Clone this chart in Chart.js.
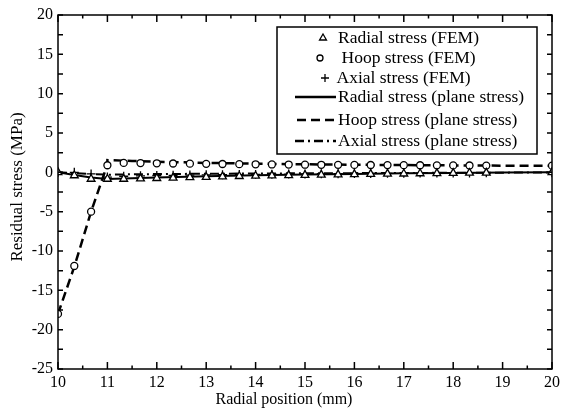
<!DOCTYPE html>
<html>
<head>
<meta charset="utf-8">
<script src="https://cdn.jsdelivr.net/npm/chart.js@4"></script>
<style>
  html, body { margin: 0; padding: 0; background: #fff; }
  #wrap { width: 564px; height: 414px; }
</style>
</head>
<body>
<div id="wrap"><canvas id="stressChart" width="564" height="414"></canvas></div>
<script>
// FEM sample positions (mm)
const femX = [10, 10.33, 10.67, 11, 11.33, 11.67, 12, 12.33, 12.67, 13, 13.33, 13.67, 14, 14.33,
  14.67, 15, 15.33, 15.67, 16, 16.33, 16.67, 17, 17.33, 17.67, 18, 18.33, 18.67, 20];
const radialFem = [0, -0.4, -0.85, -0.85, -0.85, -0.8, -0.75, -0.7, -0.65, -0.6, -0.55, -0.5, -0.46, -0.42,
  -0.38, -0.35, -0.32, -0.29, -0.26, -0.23, -0.2, -0.18, -0.15, -0.13, -0.1, -0.08, -0.06, 0];
const hoopFem = [-18, -11.9, -5, 0.9, 1.2, 1.18, 1.15, 1.12, 1.1, 1.08, 1.06, 1.04, 1.02, 1.0,
  0.99, 0.97, 0.96, 0.95, 0.94, 0.93, 0.92, 0.91, 0.9, 0.89, 0.88, 0.87, 0.86, 0.85];
const axialFem = [0, 0, -0.2, -0.6, -0.5, -0.45, -0.4, -0.38, -0.35, -0.32, -0.3, -0.28, -0.26, -0.24,
  -0.22, -0.2, -0.18, -0.17, -0.15, -0.14, -0.12, -0.11, -0.1, -0.09, -0.08, -0.07, -0.06, -0.05];

// plane stress solution
const radialLineX = [10, 10.33, 10.67, 11, 11.5, 12, 13, 14, 15, 16, 17, 18, 19, 20];
const radialLine = [0, -0.35, -0.65, -0.85, -0.75, -0.65, -0.5, -0.38, -0.28, -0.2, -0.13, -0.07, -0.03, 0];
const hoopLineX = [10, 10.33, 10.67, 11, 11, 11.5, 12, 13, 14, 15, 16, 17, 18, 19, 20];
const hoopLine = [-18, -12, -5, 1.0, 1.55, 1.45, 1.35, 1.2, 1.1, 1.02, 0.96, 0.92, 0.88, 0.85, 0.82];
const axialLineX = [10, 10.33, 10.67, 11, 11.5, 12, 13, 14, 15, 16, 17, 18, 19, 20];
const axialLine = [0, -0.1, -0.2, -0.3, -0.25, -0.22, -0.18, -0.15, -0.12, -0.1, -0.08, -0.06, -0.04, -0.02];

const yTicks = [-25, -20, -15, -10, -5, 0, 5, 10, 15, 20];
const xTitle = 'Radial position (mm)';
const yTitle = 'Residual stress (MPa)';

const legendRows = [
  { text: 'Radial stress (FEM)', style: 'triangle', r: 4, sx: 323, tx: 338, y: 38 },
  { text: 'Hoop stress (FEM)', style: 'circle', r: 3, sx: 320, tx: 341.5, y: 58 },
  { text: 'Axial stress (FEM)', style: 'cross', r: 4, sx: 325, tx: 336.5, y: 78 },
  { text: 'Radial stress (plane stress)', dash: [], x0: 295, x1: 336, tx: 338, y: 97 },
  { text: 'Hoop stress (plane stress)', dash: [9, 5], x0: 297, x1: 336, tx: 338, y: 120 },
  { text: 'Axial stress (plane stress)', dash: [9, 4, 2, 4], x0: 295, x1: 336, tx: 338, y: 141 }
];

const serif = 'Liberation Serif';

function pts(xs, ys) {
  return xs.map((x, i) => ({ x: x, y: ys[i] }));
}

function lineSet(xs, ys, dash, w) {
  return {
    data: pts(xs, ys),
    showLine: true,
    borderColor: '#000',
    borderWidth: w,
    borderDash: dash,
    pointRadius: 0,
    fill: false,
    order: 2
  };
}

function markerSet(ys, style, r) {
  return {
    data: pts(femX, ys),
    showLine: false,
    pointStyle: style,
    pointRadius: r,
    pointBorderColor: '#000',
    pointBackgroundColor: '#fff',
    pointBorderWidth: 1.3,
    order: 1
  };
}

// frame with inward ticks on all four sides, plus axis titles
const frameTicks = {
  id: 'frameTicks',
  afterDraw(chart) {
    const ctx = chart.ctx;
    const a = chart.chartArea;
    const xs = chart.scales.x, ys = chart.scales.y;
    ctx.save();
    ctx.strokeStyle = '#000';
    ctx.lineWidth = 1.5;
    ctx.strokeRect(a.left, a.top, a.right - a.left, a.bottom - a.top);
    ctx.beginPath();
    for (let v = 10; v <= 20; v += 0.5) {
      const px = xs.getPixelForValue(v);
      const len = Number.isInteger(v) ? 7 : 3.5;
      ctx.moveTo(px, a.bottom); ctx.lineTo(px, a.bottom - len);
      ctx.moveTo(px, a.top); ctx.lineTo(px, a.top + len);
    }
    for (let v = -25; v <= 20; v += 2.5) {
      const py = ys.getPixelForValue(v);
      ctx.moveTo(a.left, py); ctx.lineTo(a.left + 5, py);
      ctx.moveTo(a.right, py); ctx.lineTo(a.right - 5, py);
    }
    ctx.stroke();

    ctx.fillStyle = '#000';
    ctx.textAlign = 'center';
    ctx.textBaseline = 'middle';
    ctx.font = '16px "' + serif + '"';
    ctx.fillText(xTitle, 284, 400);
    ctx.translate(18, 187);
    ctx.rotate(-Math.PI / 2);
    ctx.font = '17px "' + serif + '"';
    ctx.fillText(yTitle, 0, 0);
    ctx.restore();
  }
};

// boxed legend
const boxLegend = {
  id: 'boxLegend',
  afterDraw(chart) {
    const ctx = chart.ctx;
    ctx.save();
    ctx.fillStyle = '#fff';
    ctx.fillRect(277, 27, 260, 127);
    ctx.strokeStyle = '#000';
    ctx.lineWidth = 1.5;
    ctx.strokeRect(277, 27, 260, 127);
    ctx.font = '17.5px "' + serif + '"';
    ctx.textBaseline = 'middle';
    legendRows.forEach(r => {
      if (r.style) {
        ctx.lineWidth = 1.3;
        ctx.fillStyle = '#fff';
        Chart.helpers.drawPoint(ctx, { pointStyle: r.style, radius: r.r, rotation: 0, borderWidth: 1.3 }, r.sx, r.y);
      } else {
        ctx.lineWidth = 2.5;
        ctx.setLineDash(r.dash);
        ctx.beginPath();
        ctx.moveTo(r.x0, r.y);
        ctx.lineTo(r.x1, r.y);
        ctx.stroke();
        ctx.setLineDash([]);
      }
      ctx.fillStyle = '#000';
      ctx.fillText(r.text, r.tx, r.y);
    });
    ctx.restore();
  }
};

new Chart(document.getElementById('stressChart'), {
  type: 'scatter',
  data: {
    datasets: [
      lineSet(radialLineX, radialLine, [], 2),
      lineSet(hoopLineX, hoopLine, [9, 5], 2.5),
      lineSet(axialLineX, axialLine, [9, 4, 2, 4], 2),
      markerSet(radialFem, 'triangle', 4.5),
      markerSet(hoopFem, 'circle', 3.5),
      markerSet(axialFem, 'cross', 4.5)
    ]
  },
  options: {
    responsive: false,
    animation: false,
    layout: { padding: { top: 15, right: 7, left: 0, bottom: 0 } },
    plugins: {
      legend: { display: false },
      tooltip: { enabled: false }
    },
    scales: {
      x: {
        type: 'linear',
        min: 10,
        max: 20,
        grid: { display: false, drawTicks: false },
        border: { display: false },
        ticks: {
          stepSize: 1,
          padding: 4,
          color: '#000',
          font: { family: serif, size: 16 }
        },
        afterFit(scale) { scale.height = 45; }
      },
      y: {
        type: 'linear',
        min: -25,
        max: 20,
        grid: { display: false, drawTicks: false },
        border: { display: false },
        afterBuildTicks(scale) { scale.ticks = yTicks.map(v => ({ value: v })); },
        ticks: {
          padding: 5,
          color: '#000',
          font: { family: serif, size: 16 }
        },
        afterFit(scale) { scale.width = 58; }
      }
    }
  },
  plugins: [frameTicks, boxLegend]
});
</script>
</body>
</html>
